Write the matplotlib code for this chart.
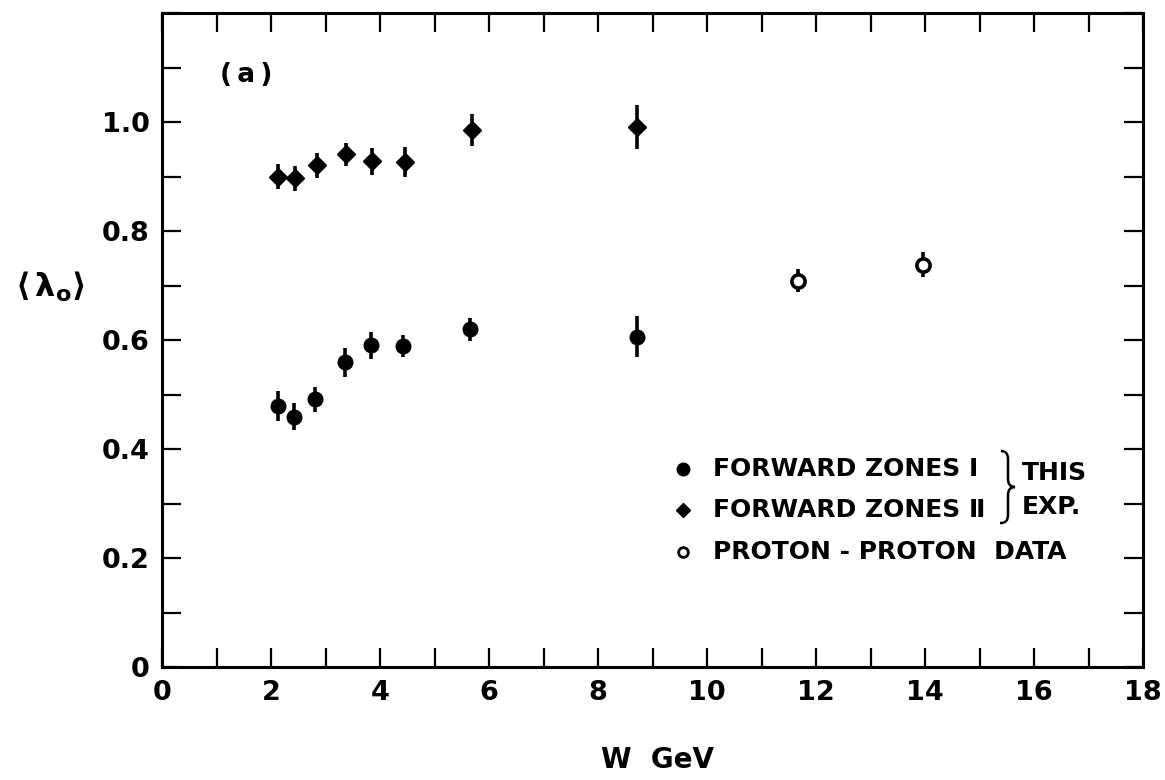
import matplotlib
matplotlib.use("Agg")
import matplotlib.pyplot as plt
from matplotlib.path import Path
from matplotlib.patches import PathPatch
from matplotlib.lines import Line2D

# ---- data ----
w_zone1 = [2.12, 2.42, 2.80, 3.36, 3.83, 4.42, 5.66, 8.72]
lam_zone1 = [0.479, 0.459, 0.491, 0.559, 0.590, 0.589, 0.620, 0.606]
err_zone1 = [0.028, 0.025, 0.023, 0.026, 0.025, 0.021, 0.021, 0.038]

w_zone2 = [2.13, 2.44, 2.84, 3.37, 3.85, 4.46, 5.68, 8.72]
lam_zone2 = [0.900, 0.897, 0.921, 0.941, 0.928, 0.927, 0.985, 0.991]
err_zone2 = [0.023, 0.023, 0.023, 0.021, 0.025, 0.028, 0.029, 0.041]

w_pp = [11.67, 13.97]
lam_pp = [0.709, 0.738]
err_pp = [0.021, 0.023]

x_ticks = list(range(0, 19))
x_ticklabels = [str(v) if v % 2 == 0 else "" for v in x_ticks]
y_ticks = [i / 10 for i in range(0, 13)]
y_ticklabels = ["0", "", "0.2", "", "0.4", "", "0.6", "", "0.8", "", "1.0", "", ""]

legend_labels = ["FORWARD ZONES \u2160", "FORWARD ZONES \u2161", "PROTON - PROTON  DATA"]

plt.rcParams['font.family'] = ['DejaVu Sans']
plt.rcParams['mathtext.fontset'] = 'dejavusans'

fig = plt.figure(figsize=(11.65, 7.8), dpi=100)
ax = fig.add_axes([162 / 1165, 1 - 667 / 780, 981 / 1165, 654 / 780])

ebkw = dict(ls='none', ecolor='black', elinewidth=2.6, capsize=0)
ax.errorbar(w_zone1, lam_zone1, yerr=err_zone1, fmt='o', ms=10.5,
            mfc='black', mec='black', mew=1, **ebkw)
ax.errorbar(w_zone2, lam_zone2, yerr=err_zone2, fmt='D', ms=9.0,
            mfc='black', mec='black', mew=1, **ebkw)
ax.errorbar(w_pp, lam_pp, yerr=err_pp, fmt='o', ms=9.5,
            mfc='white', mec='black', mew=2.6, **ebkw)

ax.set_xlim(0, 18)
ax.set_ylim(0, 1.2)
ax.set_xticks(x_ticks)
ax.set_xticklabels(x_ticklabels)
ax.set_yticks(y_ticks)
ax.set_yticklabels(y_ticklabels)
ax.tick_params(axis='both', which='both', direction='in', length=14, width=1.6,
               top=True, right=True, labelsize=19.5, pad=9)
for lab in ax.get_xticklabels() + ax.get_yticklabels():
    lab.set_fontweight('bold')
for sp in ax.spines.values():
    sp.set_linewidth(2.2)

ax.set_xlabel("W  GeV", fontsize=20, fontweight='bold', va='center')
ax.xaxis.set_label_coords(0.505, -0.142)
ax.set_ylabel(r"$\mathbf{\langle\,\lambda_o\rangle}$", fontsize=23,
              rotation=0, ha='center', va='center')
ax.yaxis.set_label_coords(-0.114, 0.582)

ax.text(0.086, 0.905, "(\u2009a\u2009)", transform=ax.transAxes, fontsize=19,
        fontweight='bold', ha='center', va='center')

# ---- legend (pixel positions converted to axes fractions) ----
def ax_x(px):
    return (px - 162) / 981

def ax_y(py):
    return (667 - py) / 654

leg_rows = [469, 510, 552]
leg_handles = [
    Line2D([], [], ls='none', marker='o', ms=9, mfc='black', mec='black'),
    Line2D([], [], ls='none', marker='D', ms=7.5, mfc='black', mec='black'),
    Line2D([], [], ls='none', marker='o', ms=7, mfc='white', mec='black', mew=2),
]
for h, lab, row in zip(leg_handles, legend_labels, leg_rows):
    ax.plot([ax_x(683)], [ax_y(row)], transform=ax.transAxes,
            ls='none', marker=h.get_marker(), ms=h.get_markersize(),
            mfc=h.get_markerfacecolor(), mec=h.get_markeredgecolor(),
            mew=h.get_markeredgewidth(), clip_on=False)
    ax.text(ax_x(713), ax_y(row), lab, transform=ax.transAxes, fontsize=18,
            fontweight='bold', ha='left', va='center')

# brace
bx0, bx1, bxm = 1001, 1015, 1008
by0, by1 = 451, 523
bym = (by0 + by1) / 2
verts_px = [
    (bx0, by0), (bxm, by0), (bxm, by0 + 8),
    (bxm, bym - 8),
    (bxm, bym), (bx1, bym), (bx1, bym),
    (bxm, bym), (bxm, bym + 8),
    (bxm, by1 - 8),
    (bxm, by1), (bx0, by1), (bx0 - 1, by1),
]
codes = [Path.MOVETO, Path.CURVE3, Path.CURVE3, Path.LINETO,
         Path.CURVE3, Path.CURVE3, Path.LINETO,
         Path.CURVE3, Path.CURVE3, Path.LINETO,
         Path.CURVE3, Path.CURVE3, Path.LINETO]
verts = [(ax_x(x), ax_y(y)) for x, y in verts_px]
ax.add_patch(PathPatch(Path(verts, codes), transform=ax.transAxes, fill=False,
                       lw=1.8, color='black', clip_on=False))
ax.text(ax_x(1022), ax_y(473), "THIS", transform=ax.transAxes, fontsize=18,
        fontweight='bold', ha='left', va='center')
ax.text(ax_x(1022), ax_y(507), "EXP.", transform=ax.transAxes, fontsize=18,
        fontweight='bold', ha='left', va='center')

fig.savefig("out.png", dpi=100)
